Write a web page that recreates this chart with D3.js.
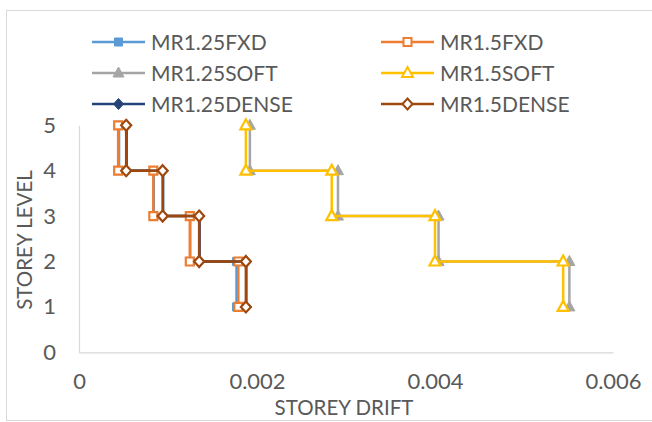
<!DOCTYPE html>
<html>
<head>
<meta charset="utf-8">
<script src="https://cdn.jsdelivr.net/npm/d3@7"></script>
<style>
  body { margin: 0; background: #fff; }
  text { font-family: Lato, "Open Sans", sans-serif; fill: #595959; }
</style>
</head>
<body>
<div id="chart"></div>
<script>

// storey levels of the 8 points on each step line
var levels = [5, 4, 4, 3, 3, 2, 2, 1];

// storey drift, one per point
var mr125fxd   = [0.00045, 0.00045, 0.00084, 0.00084, 0.00125, 0.00125, 0.00177, 0.00177];
var mr15fxd    = [0.00044, 0.00044, 0.000835, 0.000835, 0.001245, 0.001245, 0.00179, 0.00179];
var mr125soft  = [0.00192, 0.00192, 0.00291, 0.00291, 0.00404, 0.00404, 0.00551, 0.00551];
var mr15soft   = [0.001875, 0.001875, 0.00284, 0.00284, 0.0040, 0.0040, 0.00544, 0.00544];
var mr125dense = [0.000535, 0.000535, 0.000945, 0.000945, 0.001355, 0.001355, 0.00188, 0.00188];
var mr15dense  = [0.00053, 0.00053, 0.00094, 0.00094, 0.00135, 0.00135, 0.001875, 0.001875];

var names = ['MR1.25FXD', 'MR1.5FXD', 'MR1.25SOFT', 'MR1.5SOFT', 'MR1.25DENSE', 'MR1.5DENSE'];
var xTicks = [0, 0.002, 0.004, 0.006];
var yTicks = [0, 1, 2, 3, 4, 5];

var series = [
  { name: names[0], x: mr125fxd,   color: '#5B9BD5', shape: 'square',   open: false },
  { name: names[1], x: mr15fxd,    color: '#ED7D31', shape: 'square',   open: true },
  { name: names[2], x: mr125soft,  color: '#A5A5A5', shape: 'triangle', open: false },
  { name: names[3], x: mr15soft,   color: '#FFC000', shape: 'triangle', open: true },
  { name: names[4], x: mr125dense, color: '#264478', shape: 'diamond',  open: false },
  { name: names[5], x: mr15dense,  color: '#9E480E', shape: 'diamond',  open: true }
];

var width  = 652;
var height = 422;

var svg = d3.select('#chart')
  .append('svg')
  .attr('width', width)
  .attr('height', height);

// chart area border
svg.append('rect')
  .attr('x', 6.5).attr('y', 10.5)
  .attr('width', width).attr('height', 410)
  .attr('fill', 'none')
  .attr('stroke', '#D9D9D9');

var x_scale = d3.scaleLinear().domain([0, 0.006]).range([79, 613]);
var y_scale = d3.scaleLinear().domain([0, 5]).range([352.3, 125.3]);

// axes
var x_axis = d3.axisBottom(x_scale).tickValues(xTicks).tickSize(0).tickPadding(21)
  .tickFormat(function(d){ return d === 0 ? '0' : d3.format('.3f')(d); });
var gx = svg.append('g')
  .attr('transform', 'translate(0,' + y_scale(0) + ')')
  .call(x_axis);
gx.select('.domain').attr('stroke', '#D9D9D9').attr('stroke-width', 1.2);
gx.selectAll('text').style('font-size', '22px');

var y_axis = d3.axisLeft(y_scale).tickValues(yTicks).tickSize(0).tickPadding(23)
  .tickFormat(d3.format('d'));
var gy = svg.append('g')
  .attr('transform', 'translate(' + x_scale(0) + ',0)')
  .call(y_axis);
gy.select('.domain').attr('stroke', '#D9D9D9').attr('stroke-width', 1.2);
gy.selectAll('text').style('font-size', '22px');

// axis titles
svg.append('text')
  .attr('x', 344).attr('y', 415)
  .attr('text-anchor', 'middle')
  .style('font-size', '20.5px')
  .text('STOREY DRIFT');

svg.append('text')
  .attr('transform', 'translate(32,240) rotate(-90)')
  .attr('text-anchor', 'middle')
  .style('font-size', '20.5px')
  .text('STOREY LEVEL');

function markerPath(shape) {
  if (shape === 'square') return d3.symbol().type(d3.symbolSquare).size(64)();
  if (shape === 'triangle') return 'M0,-6L5.5,4L-5.5,4Z';
  return 'M0,-5.5L5,0L0,5.5L-5,0Z';
}

var line = d3.line()
  .x(function(d){ return x_scale(d[0]); })
  .y(function(d){ return y_scale(d[1]); });

series.forEach(function(s) {
  var pts = s.x.map(function(v, i){ return [v, levels[i]]; });
  var g = svg.append('g');
  g.append('path')
    .datum(pts)
    .attr('d', line)
    .attr('fill', 'none')
    .attr('stroke', s.color)
    .attr('stroke-width', 2.5);
  g.selectAll('path.pt')
    .data(pts)
    .enter()
    .append('path')
    .attr('class', 'pt')
    .attr('d', markerPath(s.shape))
    .attr('transform', function(d){ return 'translate(' + x_scale(d[0]) + ',' + y_scale(d[1]) + ')'; })
    .attr('fill', s.open ? '#fff' : s.color)
    .attr('stroke', s.color)
    .attr('stroke-width', s.open ? 2.2 : 1);
});

// legend, two columns of three rows
var legX = [92, 381];
var legY = [42, 73, 104];
series.forEach(function(s, i) {
  var lx = legX[i % 2];
  var ly = legY[Math.floor(i / 2)];
  var g = svg.append('g').attr('transform', 'translate(' + lx + ',' + ly + ')');
  g.append('line')
    .attr('x1', 0).attr('x2', 53)
    .attr('stroke', s.color)
    .attr('stroke-width', 2.5);
  g.append('path')
    .attr('d', markerPath(s.shape))
    .attr('transform', 'translate(26.5,0)')
    .attr('fill', s.open ? '#fff' : s.color)
    .attr('stroke', s.color)
    .attr('stroke-width', s.open ? 2 : 1);
  g.append('text')
    .attr('x', 59).attr('y', 7.5)
    .style('font-size', '21px')
    .text(s.name);
});

</script>
</body>
</html>
